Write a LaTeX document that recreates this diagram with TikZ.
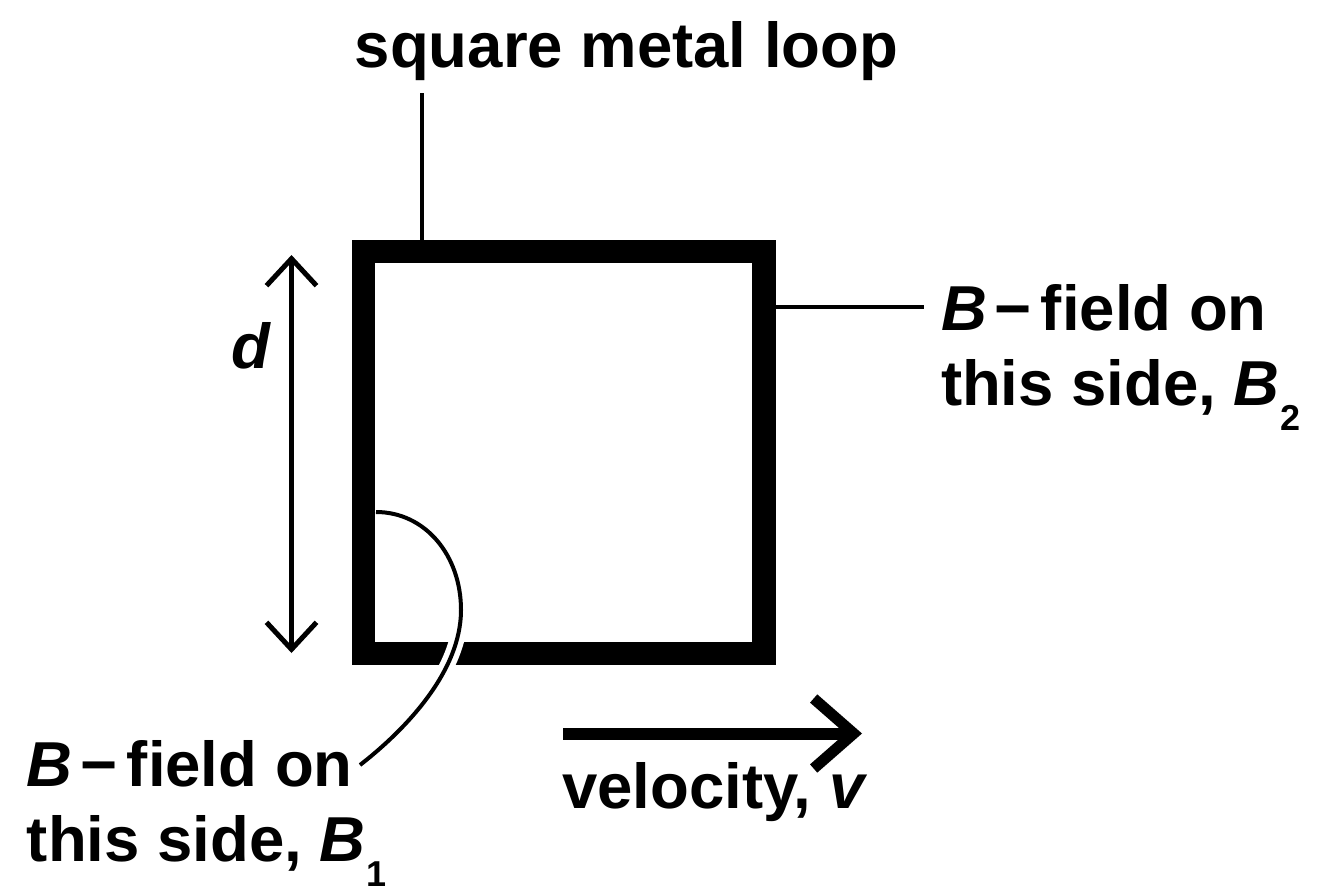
\documentclass[tikz,border=0pt]{standalone}
\usepackage{fontspec}
\setmainfont{Liberation Sans}
\usetikzlibrary{arrows.meta}
\begin{document}
\begin{tikzpicture}[x=1pt,y=-1pt,
  lbl/.style={inner sep=0pt, outer sep=0pt, font=\fontsize{63.5}{75}\selectfont\bfseries},
  leader/.style={line width=4pt},
  loopst/.style={draw, line width=23.5pt, inner sep=0pt, minimum width=400.5pt, minimum height=402pt},
  ]
\useasboundingbox (0,0) rectangle (1322,891);
% loop
\node[loopst] (loop) at (563.75,452.5) {};
% top label and leader
\node[lbl, anchor=base] (sml) at (626.5,67) {square metal loop};
\coordinate (tl) at (422,93);
\draw[leader] (tl) -- (tl |- loop.north);
% curve leader to B1 with white gap at bottom bar
\coordinate (c0) at (376,512);
\coordinate (c1) at (461,610);
\coordinate (c2) at (360,765);
\draw[white, line width=15pt] (c1) .. controls (461,672) and (405,730) .. (c2);
\draw[line width=4pt] (c0) .. controls (425,512) and (461,555) .. (c1) .. controls (461,672) and (405,730) .. (c2);
% right label
\node[lbl, anchor=base west] (b2a) at (941,330) {{\itshape B}\kern8pt−\kern9pt field on};
\node[lbl, anchor=base west] (b2b) at (941,405) {this side, {\itshape B}\kern1pt\raisebox{-25pt}{\fontsize{36}{36}\selectfont\bfseries 2}};
\draw[leader] (loop.east |- b2a.west) -- ([xshift=-17pt]b2a.west);
% left label
\node[lbl, anchor=base west] (b1a) at (27,786) {{\itshape B}\kern8pt−\kern9pt field on};
\node[lbl, anchor=base west] (b1b) at (27,861) {this side, {\itshape B}\kern1pt\raisebox{-25pt}{\fontsize{36}{36}\selectfont\bfseries 1}};
% d arrow
\coordinate (dt) at (291.5,255);
\coordinate (db) at (291.5,653);
\draw[line width=5pt, {Straight Barb[sharp,length=27pt,width=50pt]}-{Straight Barb[sharp,length=27pt,width=50pt]}] (dt) -- (db);
\node[lbl, anchor=base] (dl) at (251,368) {\itshape d};
% velocity arrow
\coordinate (va) at (563,733.5);
\coordinate (vb) at (862,733.5);
\draw[line width=12pt, -{Straight Barb[sharp,length=40pt,width=70pt,line width=11pt]}] (va) -- (vb);
\node[lbl, anchor=base west] (vl) at (562,808) {velocity, {\itshape v}};
\end{tikzpicture}
\end{document}
